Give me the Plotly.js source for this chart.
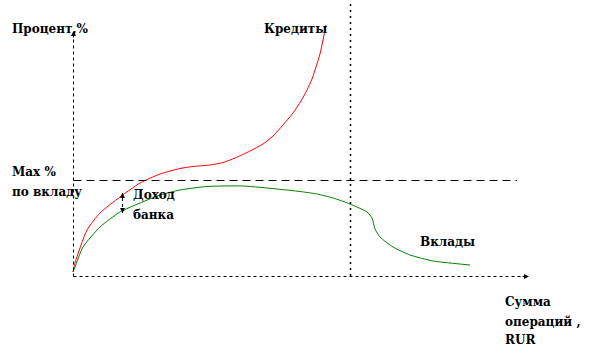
<!DOCTYPE html>
<html><head><meta charset="utf-8">
<script src="https://cdn.plot.ly/plotly-3.0.1.min.js"></script>
<style>html,body{margin:0;padding:0;background:#fff}#c{width:614px;height:359px}</style>
</head><body><div id="c"></div>
<script>
// Кредиты (red) curve: operation sum vs percent (arbitrary units)
const creditX = [0, 2, 14, 27, 47, 67, 87, 107, 120, 137, 150, 162, 177, 190, 200, 210, 220, 228, 234, 239, 243, 247, 250, 253];
const creditY = [4, 13, 46, 63, 79, 93, 102, 107.5, 109.5, 111, 113.5, 118, 125, 132, 140, 151, 163, 175, 186, 197, 209, 222, 236, 251];
// Вклады (green) curve
const depositX = [0, 2, 10, 27, 47, 67, 87, 107, 134, 170, 204, 227, 244, 260, 277, 294, 299, 302, 307, 320, 337, 360, 377, 397];
const depositY = [4, 9, 29, 49, 64, 73, 81, 86, 89.5, 90, 87, 84.5, 82, 78, 72, 64, 58, 47, 39, 29, 21, 15, 13, 11];
// reference levels
const maxDepositRate = 95.5;
const limitSum = 277.5;
const xAxisEnd = 454;
const yAxisEnd = 243;
const hLineEnd = 444;
const incomeX = 49.5, incomeTop = 83, incomeBottom = 63;

const F = {family: 'DejaVu Serif', size: 12, color: '#000'};
const traces = [
  {x: creditX, y: creditY, mode: 'lines', line: {color: '#ff0000', width: 1, shape: 'spline', smoothing: 0.6}, hoverinfo: 'skip'},
  {x: depositX, y: depositY, mode: 'lines', line: {color: '#008000', width: 1, shape: 'spline', smoothing: 0.6}, hoverinfo: 'skip'}
];
function lbl(text, x, y) {
  return {text: '<b>' + text + '</b>', x: x, y: y, xref: 'x', yref: 'y', showarrow: false, xanchor: 'left', yanchor: 'middle', font: F};
}
function arr(x, y, ax, ay) {
  return {x: x, y: y, ax: ax, ay: ay, xref: 'x', yref: 'y', axref: 'x', ayref: 'y', text: '', showarrow: true, arrowhead: 2, arrowsize: 1, arrowwidth: 1, arrowcolor: '#000'};
}
const layout = {
  width: 614, height: 359, margin: {l: 0, r: 0, t: 0, b: 0},
  paper_bgcolor: '#fff', plot_bgcolor: '#fff', showlegend: false,
  font: {family: 'DejaVu Serif'},
  xaxis: {range: [-73, 541], visible: false, fixedrange: true},
  yaxis: {range: [-83, 276], visible: false, fixedrange: true},
  shapes: [
    {type: 'line', xref: 'x', yref: 'y', x0: 0.5, y0: -0.5, x1: 0.5, y1: yAxisEnd, line: {color: '#000', width: 1, dash: 'dot'}},
    {type: 'line', xref: 'x', yref: 'y', x0: 0.5, y0: -0.5, x1: xAxisEnd, y1: -0.5, line: {color: '#000', width: 1, dash: 'dot'}},
    {type: 'line', xref: 'x', yref: 'y', x0: limitSum, y0: 0, x1: limitSum, y1: 276, line: {color: '#000', width: 1.5, dash: '2px,4px'}},
    {type: 'line', xref: 'x', yref: 'y', x0: 0.5, y0: maxDepositRate, x1: hLineEnd, y1: maxDepositRate, line: {color: '#000', width: 1, dash: '8px,5px'}},
    {type: 'line', xref: 'x', yref: 'y', x0: incomeX, y0: incomeBottom, x1: incomeX, y1: incomeTop, line: {color: '#000', width: 1, dash: 'dot'}}
  ],
  annotations: [
    arr(0.5, yAxisEnd + 2, 0.5, yAxisEnd - 6),
    arr(xAxisEnd + 2, -0.5, xAxisEnd - 6, -0.5),
    arr(incomeX, incomeTop, incomeX, incomeTop - 5),
    arr(incomeX, incomeBottom, incomeX, incomeBottom + 5),
    lbl('Процент,%', -63, 247),
    lbl('Кредиты', 189, 247),
    lbl('Max %', -63, 104),
    lbl('по вкладу', -63, 84),
    lbl('Доход', 58, 81),
    lbl('банка', 58, 61),
    lbl('Вклады', 345, 34),
    lbl('Сумма', 430, -26),
    lbl('операций ,', 430, -46),
    lbl('RUR', 430, -64)
  ]
};
Plotly.newPlot('c', traces, layout, {staticPlot: true, displayModeBar: false});
</script></body></html>
